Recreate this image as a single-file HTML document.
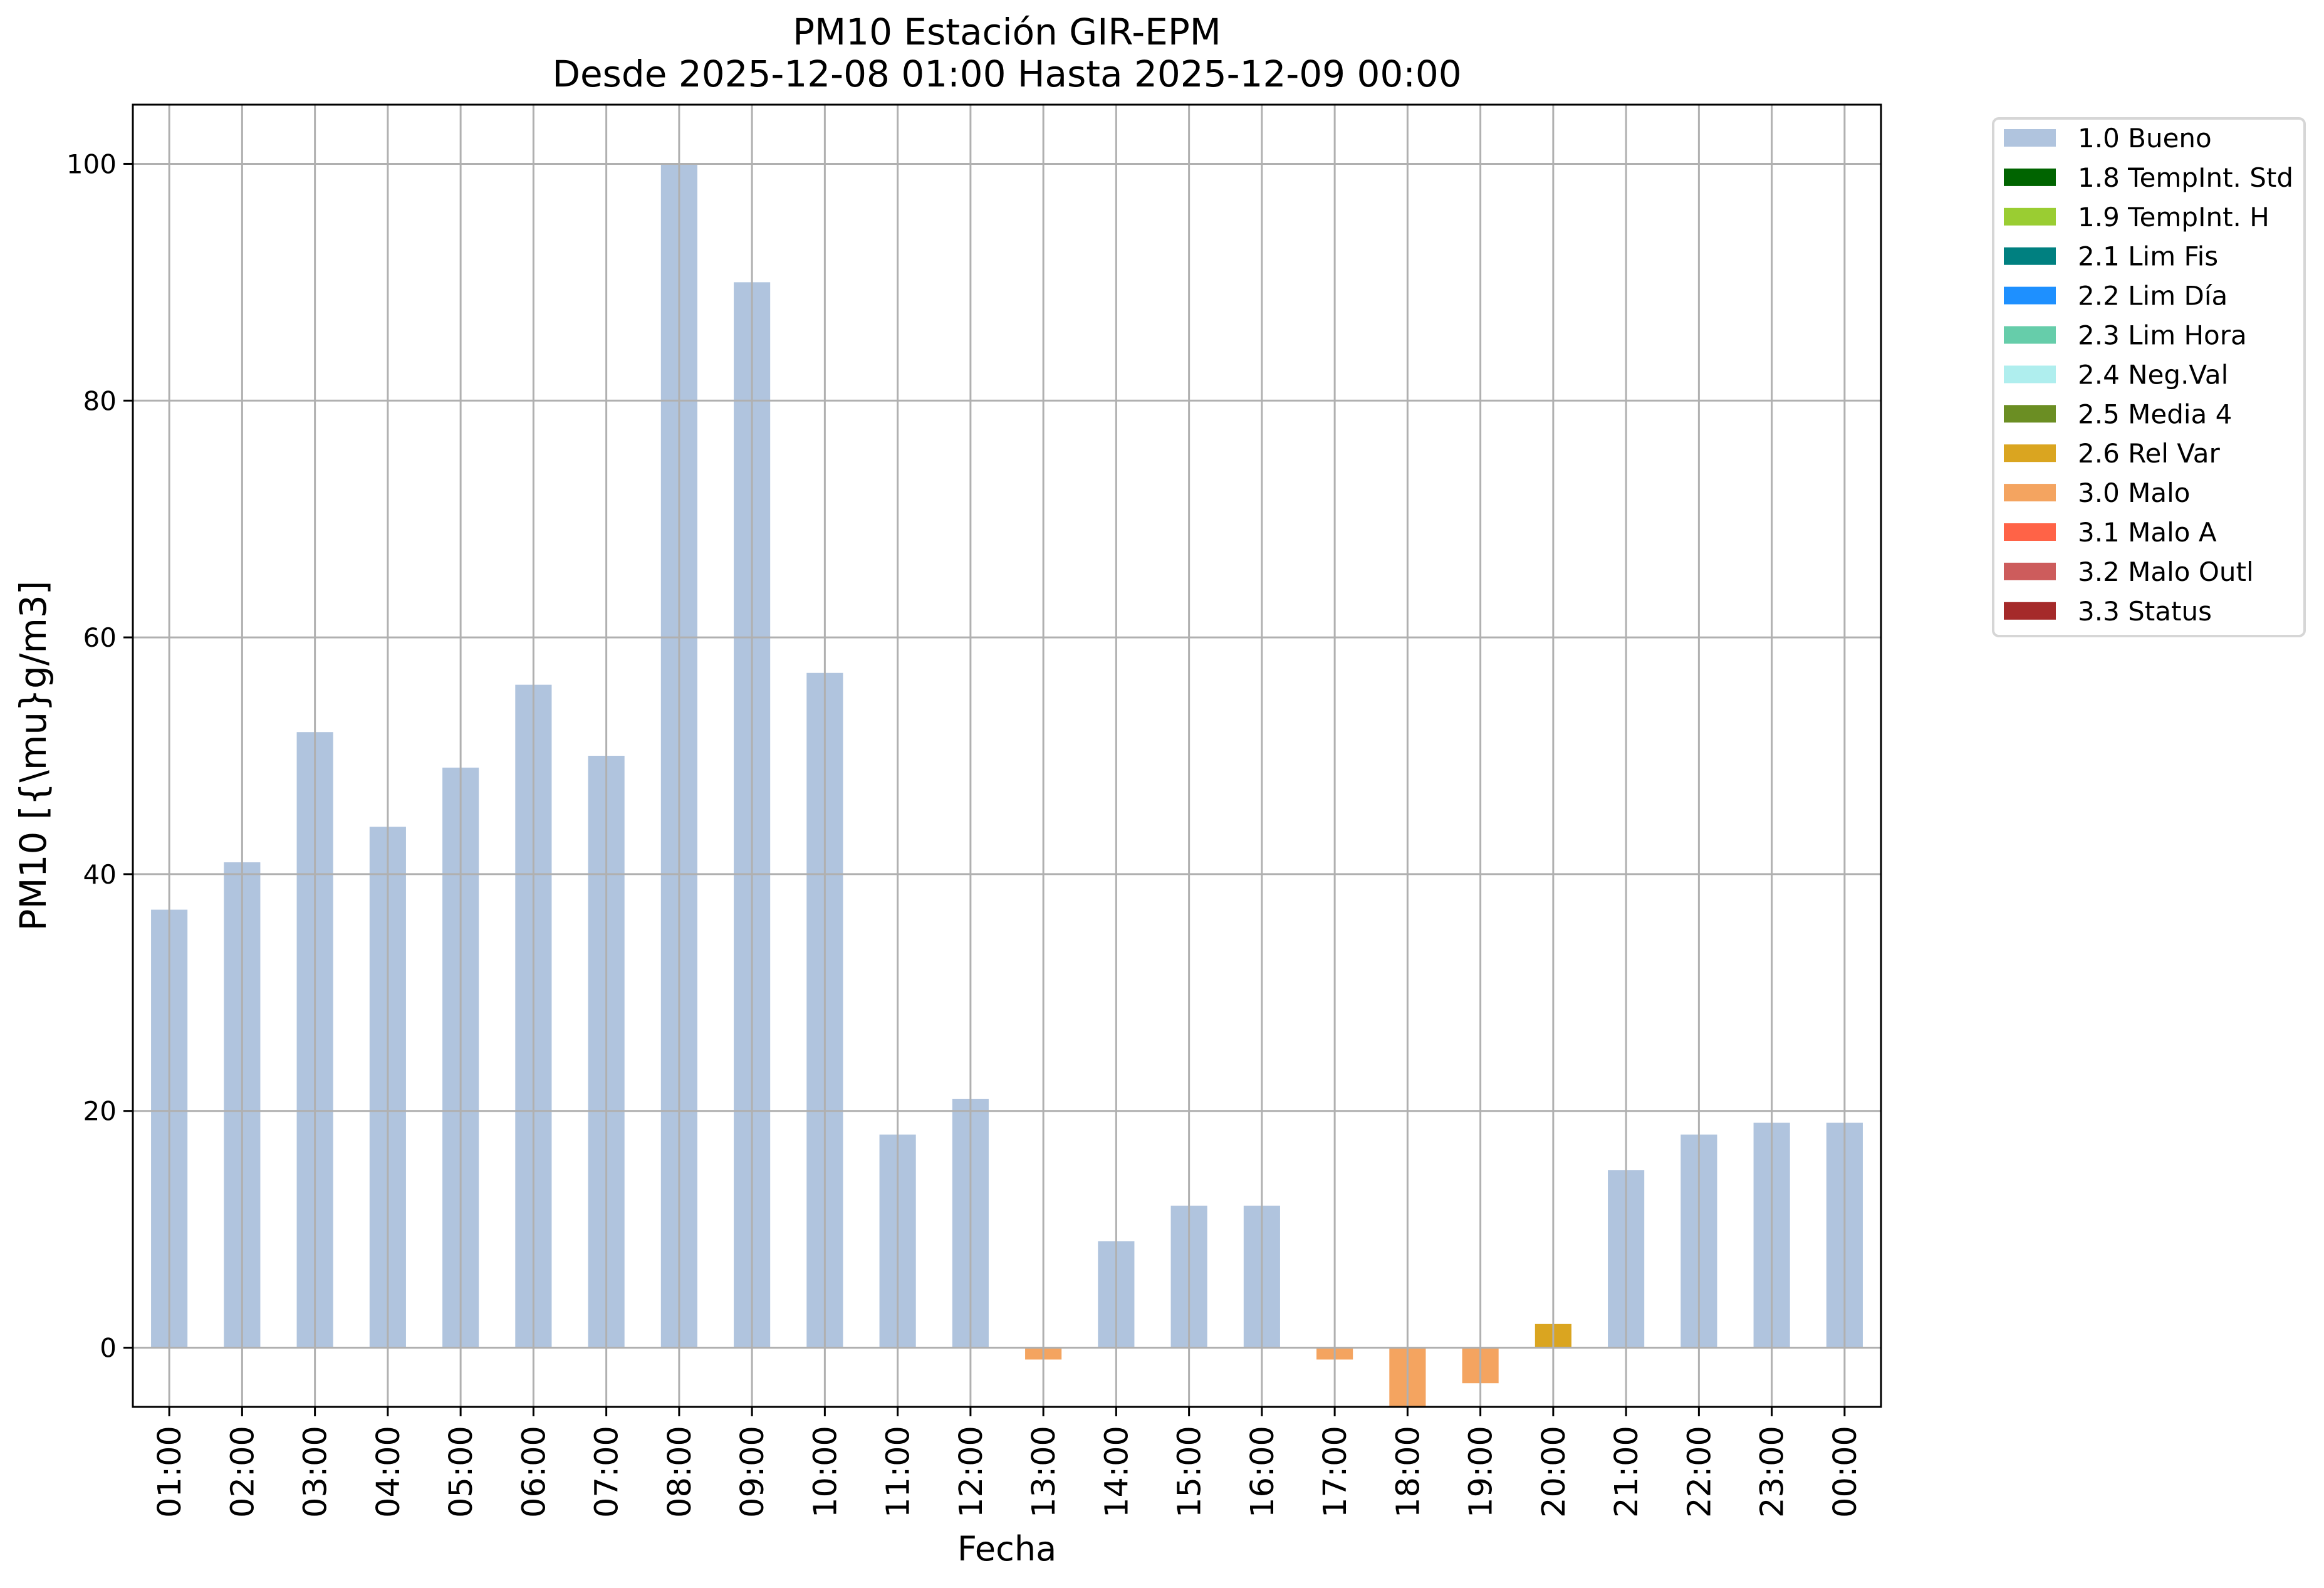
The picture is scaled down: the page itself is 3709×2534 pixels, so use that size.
<!DOCTYPE html>
<html><head><meta charset="utf-8"><style>
html,body{margin:0;padding:0;background:#fff;}
svg{display:block;font-family:"DejaVu Sans","Liberation Sans",sans-serif;}
</style></head><body>
<svg id="chart" width="3709" height="2534" viewBox="0 0 3709 2534" xmlns="http://www.w3.org/2000/svg">
<rect x="0" y="0" width="3709" height="2534" fill="#fff"/>
<text x="1607" y="71" font-size="58" text-anchor="middle">PM10 Estación GIR-EPM</text>
<text x="1607" y="138" font-size="58" text-anchor="middle">Desde 2025-12-08 01:00 Hasta 2025-12-09 00:00</text>
<g id="bars"></g>
<g id="grid"></g>
<g id="axes"></g>
<text transform="translate(73,1206) rotate(-90)" font-size="58" text-anchor="middle">PM10 [{\mu}g/m3]</text>
<text x="1607" y="2490" font-size="54" text-anchor="middle">Fecha</text>
<g id="legend"></g>
</svg>
<script>
const categories = ["01:00","02:00","03:00","04:00","05:00","06:00","07:00","08:00","09:00","10:00","11:00","12:00","13:00","14:00","15:00","16:00","17:00","18:00","19:00","20:00","21:00","22:00","23:00","00:00"];
const values = [37,41,52,44,49,56,50,100,90,57,18,21,-1,9,12,12,-1,-6,-3,2,15,18,19,19];
const flags = ["1.0","1.0","1.0","1.0","1.0","1.0","1.0","1.0","1.0","1.0","1.0","1.0","3.0","1.0","1.0","1.0","3.0","3.0","3.0","2.6","1.0","1.0","1.0","1.0"];
const yTicks = [0,20,40,60,80,100];
const legendLabels = ["1.0 Bueno","1.8 TempInt. Std","1.9 TempInt. H","2.1 Lim Fis","2.2 Lim Día","2.3 Lim Hora","2.4 Neg.Val","2.5 Media 4","2.6 Rel Var","3.0 Malo","3.1 Malo A","3.2 Malo Outl","3.3 Status"];
const legendColors = ["#b0c4de","#006400","#9acd32","#008080","#1e90ff","#66cdaa","#afeeee","#6b8e23","#daa520","#f4a460","#ff6347","#cd5c5c","#a52a2a"];

const NS="http://www.w3.org/2000/svg";
const L=212,R=3002,T=167,B=2245,YMIN=-5,YMAX=105;
const step=(R-L)/categories.length;
function xs(i){return L+(i+0.5)*step;}
function ys(v){return B-(v-YMIN)/(YMAX-YMIN)*(B-T);}
function mk(tag,attrs,parent){const e=document.createElementNS(NS,tag);for(const k in attrs)e.setAttribute(k,attrs[k]);parent.appendChild(e);return e;}
const colorOf={};legendLabels.forEach((l,i)=>{colorOf[l.split(" ")[0]]=legendColors[i];});

const bars=document.getElementById('bars');
values.forEach((v,i)=>{
  const y0=ys(0), y1=Math.max(T,Math.min(B,ys(v)));
  const r=mk('rect',{x:xs(i)-step*0.25,y:Math.min(y0,y1),width:step*0.5,height:Math.abs(y1-y0),fill:colorOf[flags[i]]},bars);
  
  
});
const grid=document.getElementById('grid');
categories.forEach((c,i)=>{
  const g=mk('line',{x1:xs(i),x2:xs(i),y1:T,y2:B,stroke:"#b0b0b0","stroke-width":3},grid);
  
  
});
yTicks.forEach(t=>{
  const g=mk('line',{x1:L,x2:R,y1:ys(t),y2:ys(t),stroke:"#b0b0b0","stroke-width":3},grid);
  
  
});
const axes=document.getElementById('axes');
const fr=mk('rect',{x:L,y:T,width:R-L,height:B-T,fill:"none",stroke:"#000","stroke-width":3},axes);


yTicks.forEach(t=>{
  mk('line',{x1:L-15,x2:L,y1:ys(t),y2:ys(t),stroke:"#000","stroke-width":3},axes);
  const tx=mk('text',{x:L-26,y:ys(t)+15,"font-size":42,"text-anchor":"end"},axes);
  tx.textContent=t;
  
  
});
categories.forEach((c,i)=>{
  mk('line',{x1:xs(i),x2:xs(i),y1:B,y2:B+15,stroke:"#000","stroke-width":3},axes);
  const tx=mk('text',{transform:`translate(${xs(i)+18},${B+30}) rotate(-90)`,"font-size":51,"text-anchor":"end"},axes);
  tx.textContent=c;
  
  
});
const lg=document.getElementById('legend');
const box=mk('rect',{x:3181,y:189,width:497,height:826,rx:9,fill:"#fff",stroke:"#d6d6d6","stroke-width":4},lg);


legendLabels.forEach((l,i)=>{
  const cy=220+i*62.9;
  const p=mk('rect',{x:3198,y:cy-14,width:83,height:28,fill:legendColors[i]},lg);
  
  
  const tx=mk('text',{x:3316,y:cy+15,"font-size":42},lg);
  tx.textContent=l;
  
  
});
</script>
</body></html>
